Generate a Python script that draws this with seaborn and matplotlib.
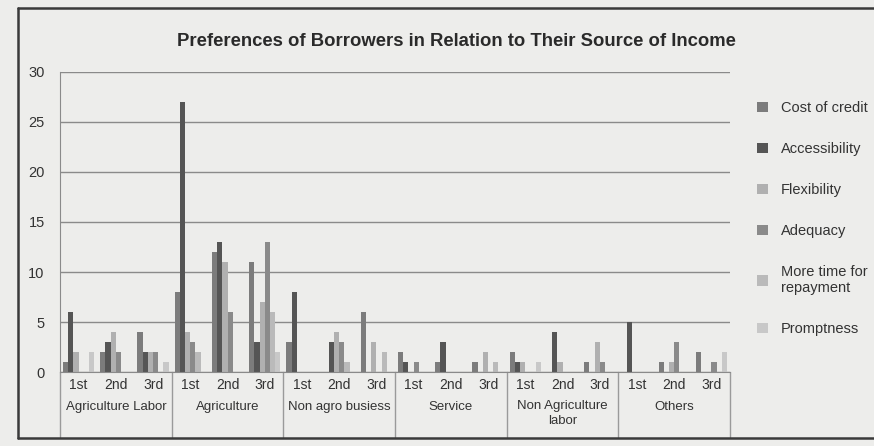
import matplotlib
matplotlib.use("Agg")
import matplotlib.pyplot as plt
import matplotlib.transforms as mtransforms
from matplotlib.lines import Line2D
import pandas as pd
import seaborn as sns

# Source-of-income groups and the rank given within each group
groups = ["Agriculture Labor", "Agriculture", "Non agro busiess", "Service",
          "Non Agriculture\nlabor", "Others"]
ranks = ["1st", "2nd", "3rd"]

series = ["Cost of credit", "Accessibility", "Flexibility", "Adequacy",
          "More time for\nrepayment", "Promptness"]

# Number of borrowers per (group, rank), one list per preference
cost_of_credit = [1, 2, 4, 8, 12, 11, 3, 0, 6, 2, 1, 1, 2, 0, 1, 0, 1, 2]
accessibility = [6, 3, 2, 27, 13, 3, 8, 3, 0, 1, 3, 0, 1, 4, 0, 5, 0, 0]
flexibility = [2, 4, 2, 4, 11, 7, 0, 4, 3, 0, 0, 2, 1, 1, 3, 0, 1, 0]
adequacy = [0, 2, 2, 3, 6, 13, 0, 3, 0, 1, 0, 0, 0, 0, 1, 0, 3, 1]
more_time = [0, 0, 0, 2, 0, 6, 0, 1, 2, 0, 0, 1, 0, 0, 0, 0, 0, 0]
promptness = [2, 0, 1, 0, 0, 2, 0, 0, 0, 0, 0, 0, 1, 0, 0, 0, 0, 2]

values = [cost_of_credit, accessibility, flexibility, adequacy, more_time, promptness]
colors = ["#7c7c7c", "#555555", "#b0b0b0", "#8a8a8a", "#bababa", "#c8c8c8"]

categories = [f"{g}|{r}" for g in groups for r in ranks]
rows = []
for name, vals in zip(series, values):
    for cat, v in zip(categories, vals):
        rows.append({"cat": cat, "series": name, "value": v})
df = pd.DataFrame(rows)

sns.set_style("white")
plt.rcParams["font.family"] = ["Liberation Sans", "DejaVu Sans"]

paper = "#ededeb"
fig = plt.figure(figsize=(8.74, 4.46), dpi=100, facecolor=paper)
ax = fig.add_axes([60 / 874, 1 - 372 / 446, 670 / 874, 300 / 446])
ax.set_facecolor(paper)

sns.barplot(data=df, x="cat", y="value", hue="series", order=categories,
            hue_order=series, palette=colors, width=0.84, saturation=1,
            linewidth=0, ax=ax)

ax.set_ylim(0, 30)
ax.set_xlim(-0.5, len(categories) - 0.5)
ax.set_yticks(range(0, 31, 5))
ax.yaxis.grid(True, color="#8a8a8a", linewidth=1.0)
ax.set_axisbelow(True)
for side in ["top", "right"]:
    ax.spines[side].set_visible(False)
ax.spines["left"].set_color("#8a8a8a")
ax.spines["bottom"].set_color("#8a8a8a")
ax.set_xlabel("")
ax.set_ylabel("")
ax.set_xticks(range(len(categories)))
ax.set_xticklabels(ranks * len(groups), fontsize=10, color="#333333")
ax.tick_params(axis="x", length=0, pad=4)
ax.tick_params(axis="y", length=0, pad=11, labelsize=10.5, labelcolor="#333333")

# Group labels and dividers under the category axis
trans = mtransforms.blended_transform_factory(ax.transData, ax.transAxes)
for i, g in enumerate(groups):
    two_lines = "\n" in g
    ax.text(i * 3 + 1, -0.095 if two_lines else -0.117, g, transform=trans,
            ha="center", va="top" if two_lines else "center",
            fontsize=9.5, color="#333333", linespacing=1.3)
for b in range(len(groups) + 1):
    ax.plot([b * 3 - 0.5, b * 3 - 0.5], [0, -0.215], transform=trans,
            color="#9a9a9a", linewidth=1.0, clip_on=False)

leg = ax.legend(loc="upper left", bbox_to_anchor=(744 / 874, 1 - 88 / 446),
                bbox_transform=fig.transFigure, frameon=False, fontsize=10.5,
                handlelength=0.75, handleheight=0.75, handletextpad=0.9,
                labelspacing=1.85)
for t in leg.get_texts():
    t.set_color("#333333")

fig.text(456 / 874, 1 - 42 / 446,
         "Preferences of Borrowers in Relation to Their Source of Income",
         ha="center", va="center", fontsize=13.3, fontweight="bold", color="#2a2a2a")

# Page frame: left edge plus top and bottom rules
frame = dict(transform=fig.transFigure, color="#3a3a3a", linewidth=1.8)
fig.add_artist(Line2D([18 / 874, 18 / 874], [1 - 8 / 446, 1 - 438 / 446], **frame))
fig.add_artist(Line2D([18 / 874, 1.0], [1 - 8 / 446, 1 - 8 / 446], **frame))
fig.add_artist(Line2D([18 / 874, 1.0], [1 - 438 / 446, 1 - 438 / 446], **frame))

fig.savefig("out.png", dpi=100, facecolor=paper)
